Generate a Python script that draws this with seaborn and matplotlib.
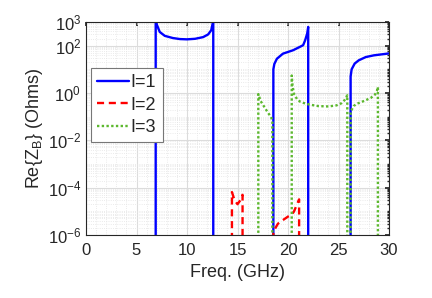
import numpy as np
import pandas as pd
import matplotlib
matplotlib.use("Agg")
import matplotlib.pyplot as plt
import matplotlib.ticker as mticker
import seaborn as sns

# ---- data (freq in GHz, Re{Z_B} in Ohms) ----
LOW = 1e-9  # value below the axis floor (curve falls to ~0)

# I=1
i1_seg1_f = [6.9, 6.9, 7.0, 7.3, 7.8, 8.6, 9.3, 10.0, 10.8, 11.6, 12.1, 12.4, 12.55, 12.6, 12.6]
i1_seg1_v = [LOW, 5e3, 800, 380, 260, 210, 190, 185, 195, 230, 300, 450, 900, 5e3, LOW]
i1_seg2_f = [18.55, 18.55, 18.65, 18.9, 19.5, 20.5, 21.2, 21.5, 21.7, 21.9, 22.0, 22.0]
i1_seg2_v = [LOW, 10, 17, 28, 46, 64, 90, 105, 170, 325, 620, LOW]
i1_seg3_f = [26.2, 26.2, 26.3, 26.6, 27.0, 27.7, 28.5, 30.0]
i1_seg3_v = [LOW, 5, 10, 17.5, 24, 33, 39, 47]

# I=2
i2_seg1_f = [14.45, 14.45, 14.7, 15.0, 15.3, 15.5, 15.5]
i2_seg1_v = [LOW, 6.5e-5, 3e-5, 2e-5, 3e-5, 5e-5, LOW]
i2_seg2_f = [18.55, 18.55, 18.6, 19.0, 19.4, 20.0, 20.4, 20.6, 20.8, 21.1, 21.1]
i2_seg2_v = [LOW, 1.2e-6, 1.5e-6, 3e-6, 4e-6, 6e-6, 7.5e-6, 1e-5, 1.6e-5, 3.2e-5, LOW]

# I=3
i3_seg1_f = [17.06, 17.06, 17.3, 17.65, 18.0, 18.3, 18.45, 18.45]
i3_seg1_v = [LOW, 0.9, 0.45, 0.26, 0.15, 0.1, 0.07, LOW]
i3_seg2_f = [20.37, 20.37, 20.45, 20.6, 20.9, 21.2, 21.7, 22.2, 23.0, 24.0, 24.8, 25.3, 25.6, 25.8, 25.87, 25.87]
i3_seg2_v = [LOW, 5.5, 2.0, 0.9, 0.55, 0.43, 0.36, 0.32, 0.28, 0.27, 0.3, 0.37, 0.5, 0.7, 0.8, LOW]
i3_seg3_f = [26.2, 26.2, 26.5, 26.8, 27.3, 27.8, 28.2, 28.6, 28.8, 28.9, 28.9]
i3_seg3_v = [LOW, 0.16, 0.28, 0.35, 0.42, 0.52, 0.62, 0.85, 1.2, 1.8, LOW]

series_labels = ["I=1", "I=2", "I=3"]
x_ticks = [0, 5, 10, 15, 20, 25, 30]
y_ticks = [1e-6, 1e-4, 1e-2, 1e0, 1e2, 1e3]

segments = {
    "I=1": [(i1_seg1_f, i1_seg1_v), (i1_seg2_f, i1_seg2_v), (i1_seg3_f, i1_seg3_v)],
    "I=2": [(i2_seg1_f, i2_seg1_v), (i2_seg2_f, i2_seg2_v)],
    "I=3": [(i3_seg1_f, i3_seg1_v), (i3_seg2_f, i3_seg2_v), (i3_seg3_f, i3_seg3_v)],
}
rows = []
seg_id = 0
for lab in series_labels:
    for f, v in segments[lab]:
        for k, (fi, vi) in enumerate(zip(f, v)):
            rows.append({"freq": fi, "val": vi, "I": lab, "seg": seg_id, "order": k})
        seg_id += 1
df = pd.DataFrame(rows)

# ---- styling ----
sns.set_theme(style="white")
plt.rcParams["font.family"] = ["Liberation Sans", "DejaVu Sans"]
plt.rcParams["mathtext.default"] = "regular"

fig = plt.figure(figsize=(4.32, 2.98), dpi=100)
ax = fig.add_axes([86 / 432, 1 - 235 / 298, (389 - 86) / 432, (235 - 22) / 298])

palette = {"I=1": "#0000ff", "I=2": "#ff0000", "I=3": "#5cb82e"}
dashes = {"I=1": "", "I=2": (3, 2), "I=3": (1, 1)}

sns.lineplot(data=df, x="freq", y="val", hue="I", style="I", units="seg",
             estimator=None, sort=False, palette=palette, dashes=dashes,
             linewidth=1.7, ax=ax, legend=True)

ax.set_yscale("log")
ax.set_xlim(0, 30)
ax.set_ylim(1e-6, 1e3)
ax.set_xticks(x_ticks)
ax.xaxis.set_minor_locator(mticker.MultipleLocator(1))
ax.set_yticks(y_ticks)
ax.yaxis.set_major_formatter(mticker.LogFormatterSciNotation())
ax.yaxis.set_minor_locator(mticker.LogLocator(base=10, subs=np.arange(1, 10), numticks=30))
ax.yaxis.set_minor_formatter(mticker.NullFormatter())

ax.grid(True, which="major", color="#dcdcdc", linewidth=0.8, linestyle="-")
ax.grid(True, which="minor", color="#e4e4e4", linewidth=0.6, linestyle=":")
ax.set_axisbelow(True)

for s in ax.spines.values():
    s.set_visible(True)
    s.set_color("#262626")
    s.set_linewidth(0.8)

ax.tick_params(axis="both", which="both", direction="in", top=True, right=True,
               colors="#262626", labelcolor="#262626", labelsize=12)
ax.tick_params(which="major", length=3)
ax.tick_params(which="minor", length=1.5)
ax.tick_params(axis="x", which="minor", length=0)
ax.tick_params(axis="x", pad=6)

ax.set_xlabel("Freq. (GHz)", fontsize=13, color="#262626")
ax.set_ylabel("Re{Z$_\\mathregular{B}$} (Ohms)", fontsize=13, color="#262626", labelpad=2)

leg = ax.legend(loc="upper left", bbox_to_anchor=(91 / 432, 1 - 68 / 298),
                bbox_transform=fig.transFigure, fontsize=13, frameon=True,
                fancybox=False, edgecolor="#777777", handlelength=1.75,
                handletextpad=0.1, labelspacing=0.3, borderpad=0.35,
                borderaxespad=0, title=None)
leg.get_frame().set_linewidth(0.8)
leg.get_frame().set_alpha(1)

fig.savefig("out.png", dpi=100)
